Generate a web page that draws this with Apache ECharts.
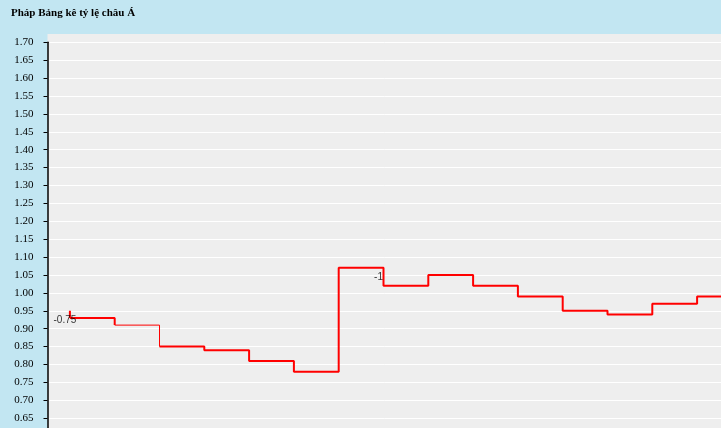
<!DOCTYPE html>
<html>
<head>
<meta charset="utf-8">
<script src="https://cdn.jsdelivr.net/npm/echarts@6/dist/echarts.min.js"></script>
<style>
html,body{margin:0;padding:0;background:#c2e6f2;}
#c{width:721px;height:428px;}
</style>
</head>
<body>
<div id="c"></div>
<script>
// ---- data ----
var title = 'Pháp Bảng kê tỷ lệ châu Á';
var steps = [0, 1, 2, 3, 4, 5, 6, 7, 8, 9, 10, 11, 12, 13, 14, 15];
var values = [0.93, 0.91, 0.85, 0.84, 0.81, 0.78, 1.07, 1.02, 1.05, 1.02, 0.99, 0.95, 0.94, 0.97, 0.99, 0.99];
var thinFrom = 1, thinTo = 2;           // segment drawn with a thin line
var startTickValue = 0.95;              // short opening stroke before first point
var annoSteps = [0, 7];
var annoValues = [0.95, 1.07];
var annoTexts = ['-0.75', '-1'];
var yMin = 0.60, yMax = 1.70, yInterval = 0.05;

// ---- layout ----
var TITLE_H = 34;
var GRID_LEFT = 47.5, GRID_TOP = 42.3, GRID_H = 393.8, BAND = 44.8;

function pts(a, b) {
  var out = [];
  for (var i = a; i <= b; i++) out.push([steps[i], values[i]]);
  return out;
}

var chart = echarts.init(document.getElementById('c'), null, {renderer: 'canvas'});
var red = '#ff0000';
chart.setOption({
  animation: false,
  backgroundColor: '#c2e6f2',
  title: {
    text: title, left: 11, top: 8, padding: 0,
    textStyle: {fontFamily: 'Liberation Serif', fontWeight: 'bold', fontSize: 11, color: '#000'}
  },
  graphic: [{
    type: 'rect', z: -10,
    shape: {x: GRID_LEFT, y: TITLE_H, width: 721 - GRID_LEFT, height: GRID_TOP - TITLE_H},
    style: {fill: '#eeeeee'}
  }],
  grid: {
    left: GRID_LEFT, top: GRID_TOP, width: BAND * steps.length, height: GRID_H,
    show: true, backgroundColor: '#eeeeee', borderWidth: 0, containLabel: false,
    outerBoundsMode: 'none'
  },
  xAxis: {
    type: 'value', min: steps[0] - 0.5, max: steps[steps.length - 1] + 0.5, show: false
  },
  yAxis: {
    type: 'value', min: yMin, max: yMax, interval: yInterval,
    axisLine: {show: true, onZero: false, lineStyle: {color: '#000', width: 1.5}},
    axisTick: {show: true, length: 4, lineStyle: {color: '#000'}},
    axisLabel: {
      margin: 14, color: '#000', fontFamily: 'Liberation Serif', fontSize: 11,
      formatter: function (v) { return v.toFixed(2); }
    },
    splitLine: {show: true, lineStyle: {color: '#ffffff', width: 1}}
  },
  series: [
    {type: 'line', step: 'end', symbol: 'none', data: pts(0, thinFrom),
     lineStyle: {color: red, width: 2}},
    {type: 'line', step: 'end', symbol: 'none', data: pts(thinFrom, thinTo),
     lineStyle: {color: red, width: 1}},
    {type: 'line', step: 'end', symbol: 'none', data: pts(thinTo, steps.length - 1),
     lineStyle: {color: red, width: 2}},
    {type: 'line', symbol: 'none', data: [[steps[0], startTickValue], [steps[0], values[0]]],
     lineStyle: {color: red, width: 2}},
    {type: 'scatter', symbol: 'circle', symbolSize: 2, z: 5,
     itemStyle: {color: 'rgba(0,0,0,0)'},
     data: annoSteps.map(function (s, i) { return {value: [s, annoValues[i]], name: annoTexts[i]}; }),
     label: {show: true, position: 'inside', offset: [-5, 9], formatter: '{b}',
             color: '#000', fontFamily: 'Liberation Sans', fontSize: 10}}
  ]
});
</script>
</body>
</html>
